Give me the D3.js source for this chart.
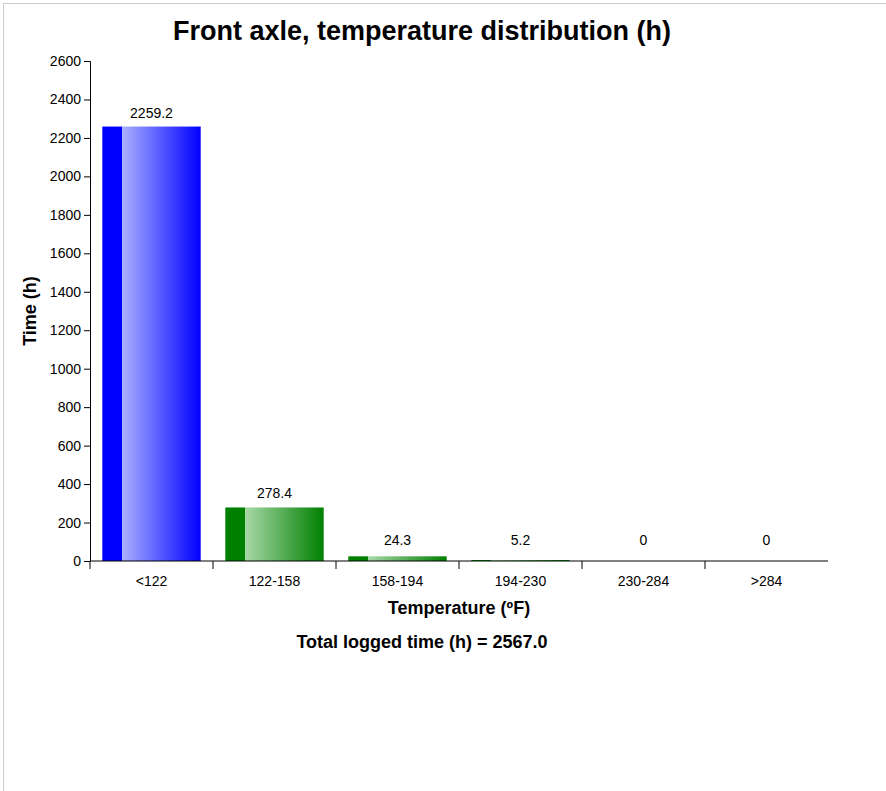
<!DOCTYPE html>
<html>
<head>
<meta charset="utf-8">
<script src="https://cdn.jsdelivr.net/npm/d3@7"></script>
<style>
body { margin: 0; background: #fff; font-family: "Liberation Sans", Arial, sans-serif; }
.frame { position: absolute; left: 3px; top: 3px; width: 1000px; height: 1000px; border: 1px solid #ccc; }
svg { position: absolute; left: 0; top: 0; }
.axis text { font-size: 14px; fill: #000; font-family: "Liberation Sans", Arial, sans-serif; }
.axis path, .axis line { stroke: #000; }
</style>
</head>
<body>
<div class="frame"></div>
<script>
// chart data
var categories = ["<122", "122-158", "158-194", "194-230", "230-284", ">284"];
var hours      = [2259.2, 278.4, 24.3, 5.2, 0, 0];
var labels     = ["2259.2", "278.4", "24.3", "5.2", "0", "0"];
var yTicks     = [0, 200, 400, 600, 800, 1000, 1200, 1400, 1600, 1800, 2000, 2200, 2400, 2600];
var barColors  = ["#0000ff", "#008000", "#008000", "#008000", "#008000", "#008000"];
var lightColors = ["#aab0ff", "#a8d8a8", "#a8d8a8", "#a8d8a8", "#a8d8a8", "#a8d8a8"];
var totalTime  = "2567.0";

var width = 886, height = 791;
var mLeft = 90, mRight = 828, mTop = 61, mBottom = 561;

var svg = d3.select("body").append("svg")
  .attr("width", width)
  .attr("height", height);

var defs = svg.append("defs");
categories.forEach(function(c, i) {
  var g = defs.append("linearGradient").attr("id", "grad" + i)
    .attr("x1", "0%").attr("x2", "100%").attr("y1", "0%").attr("y2", "0%");
  g.append("stop").attr("offset", "0%").attr("stop-color", barColors[i]);
  g.append("stop").attr("offset", "20%").attr("stop-color", barColors[i]);
  g.append("stop").attr("offset", "20%").attr("stop-color", lightColors[i]);
  g.append("stop").attr("offset", "100%").attr("stop-color", barColors[i]);
});

var x = d3.scaleBand().domain(categories).range([mLeft, mRight])
  .paddingInner(0.2).paddingOuter(0.1);
var y = d3.scaleLinear().domain([0, 2600]).range([mBottom, mTop]);

// title
svg.append("text")
  .attr("x", 422).attr("y", 40)
  .attr("text-anchor", "middle")
  .style("font-size", "27px").style("font-weight", "bold")
  .text("Front axle, temperature distribution (h)");

// bars
svg.selectAll(".bar").data(hours).enter().append("rect")
  .attr("class", "bar")
  .attr("x", function(d, i) { return x(categories[i]); })
  .attr("width", x.bandwidth())
  .attr("y", function(d) { return y(d); })
  .attr("height", function(d) { return y(0) - y(d); })
  .attr("fill", function(d, i) { return "url(#grad" + i + ")"; });

// value labels
svg.selectAll(".val").data(hours).enter().append("text")
  .attr("class", "val")
  .attr("x", function(d, i) { return x(categories[i]) + x.bandwidth() / 2; })
  .attr("y", function(d) { return Math.min(y(d) - 9, y(0) - 16); })
  .attr("text-anchor", "middle")
  .style("font-size", "14px")
  .text(function(d, i) { return labels[i]; });

// y axis
svg.append("g").attr("class", "axis")
  .attr("transform", "translate(" + mLeft + ",0)")
  .call(d3.axisLeft(y).tickValues(yTicks).tickSize(6).tickSizeOuter(6).tickFormat(d3.format("d")));

// x axis with ticks at band boundaries
var xa = svg.append("g").attr("class", "axis")
  .attr("transform", "translate(0," + mBottom + ")");
xa.append("line").attr("x1", mLeft).attr("x2", mRight).attr("stroke", "#000");
var bounds = d3.range(categories.length).map(function(i) { return mLeft + i * x.step(); });
xa.selectAll(".tk").data(bounds).enter().append("line")
  .attr("x1", function(d) { return d; }).attr("x2", function(d) { return d; })
  .attr("y1", 0).attr("y2", 8).attr("stroke", "#000");
xa.selectAll(".lb").data(categories).enter().append("text")
  .attr("x", function(d) { return x(d) + x.bandwidth() / 2; })
  .attr("y", 25)
  .attr("text-anchor", "middle")
  .text(function(d) { return d; });

// axis titles
svg.append("text")
  .attr("transform", "translate(36," + ((mTop + mBottom) / 2) + ") rotate(-90)")
  .attr("text-anchor", "middle")
  .style("font-size", "18px").style("font-weight", "bold")
  .text("Time (h)");

svg.append("text")
  .attr("x", (mLeft + mRight) / 2).attr("y", 614)
  .attr("text-anchor", "middle")
  .style("font-size", "18px").style("font-weight", "bold")
  .text("Temperature (ºF)");

svg.append("text")
  .attr("x", 422).attr("y", 648)
  .attr("text-anchor", "middle")
  .style("font-size", "18px").style("font-weight", "bold")
  .text("Total logged time (h) = " + totalTime);
</script>
</body>
</html>
